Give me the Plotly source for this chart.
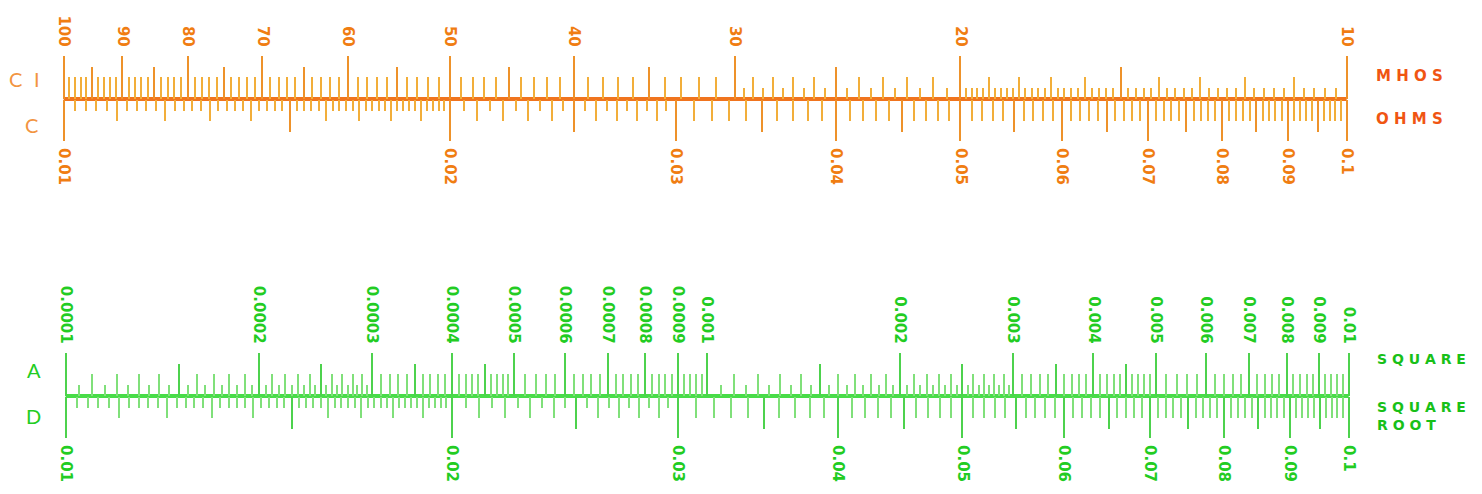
import numpy as np
import plotly.graph_objects as go

# ------------------------------------------------------------------ data
# Top rule: C scale (ohms, below the line) and CI scale (mhos, above the line)
C_LABEL_VALUES = [0.01, 0.02, 0.03, 0.04, 0.05, 0.06, 0.07, 0.08, 0.09, 0.1]
C_LABEL_TEXT = ["0.01", "0.02", "0.03", "0.04", "0.05", "0.06", "0.07", "0.08", "0.09", "0.1"]
C_HALF_MARKS = [0.015, 0.025, 0.035, 0.045, 0.055, 0.065, 0.075, 0.085, 0.095]
C_TENTH_STEPS = [(0.01, 0.1, 0.001)]                       # (from, to, step)
C_FINE_STEPS = [(0.01, 0.02, 0.0002), (0.02, 0.03, 0.0005)]

CI_LABEL_VALUES = [100, 90, 80, 70, 60, 50, 40, 30, 20, 10]
CI_LABEL_TEXT = ["100", "90", "80", "70", "60", "50", "40", "30", "20", "10"]
CI_FIVE_MARKS = [95, 85, 75, 65, 55, 45, 35, 25, 15]
CI_UNIT_STEPS = [(10, 100, 1)]
CI_FINE_STEPS = [(10, 20, 0.2), (20, 30, 0.5)]

# Bottom rule: A scale (square, above) and D scale (square root, below)
A_LABEL_VALUES = [0.0001, 0.0002, 0.0003, 0.0004, 0.0005, 0.0006, 0.0007, 0.0008, 0.0009,
                  0.001, 0.002, 0.003, 0.004, 0.005, 0.006, 0.007, 0.008, 0.009, 0.01]
A_LABEL_TEXT = ["0.0001", "0.0002", "0.0003", "0.0004", "0.0005", "0.0006", "0.0007", "0.0008",
                "0.0009", "0.001", "0.002", "0.003", "0.004", "0.005", "0.006", "0.007",
                "0.008", "0.009", "0.01"]
A_HALF_MARKS = [0.00015, 0.00025, 0.00035, 0.00045, 0.0015, 0.0025, 0.0035, 0.0045]
A_TENTH_STEPS = [(0.0001, 0.0005, 0.00001), (0.0005, 0.001, 0.00002),
                 (0.001, 0.005, 0.0001), (0.005, 0.01, 0.0002)]
A_FINE_STEPS = [(0.0001, 0.0003, 0.000005), (0.001, 0.003, 0.00005)]

D_LABEL_VALUES = [0.01, 0.02, 0.03, 0.04, 0.05, 0.06, 0.07, 0.08, 0.09, 0.1]
D_LABEL_TEXT = ["0.01", "0.02", "0.03", "0.04", "0.05", "0.06", "0.07", "0.08", "0.09", "0.1"]
D_HALF_MARKS = [0.015, 0.025, 0.035, 0.045, 0.055, 0.065, 0.075, 0.085, 0.095]
D_TENTH_STEPS = [(0.01, 0.1, 0.001)]
D_FINE_STEPS = [(0.01, 0.02, 0.0002), (0.02, 0.03, 0.0005)]

SCALE_RANGE = [0.01, 0.1]


# ------------------------------------------------------------------ helpers
def key(v):
    return float(f"{v:.10g}")


def graduations(steps, exclude):
    ex = {key(v) for v in exclude}
    out = []
    for lo, hi, st in steps:
        n = int(round((hi - lo) / st))
        for i in range(n + 1):
            v = key(lo + i * st)
            if v not in ex:
                ex.add(v)
                out.append(v)
    return out


def ci_pos(vals):      # reciprocal scale -> position on C
    return [1.0 / v for v in vals]


def a_pos(vals):       # square scale -> position on D
    return [float(np.sqrt(v)) for v in vals]


c_tenth = graduations(C_TENTH_STEPS, C_LABEL_VALUES + C_HALF_MARKS)
c_fine = graduations(C_FINE_STEPS, C_LABEL_VALUES + C_HALF_MARKS + c_tenth)
ci_unit = graduations(CI_UNIT_STEPS, CI_LABEL_VALUES + CI_FIVE_MARKS)
ci_fine = graduations(CI_FINE_STEPS, CI_LABEL_VALUES + CI_FIVE_MARKS + ci_unit)
a_tenth = graduations(A_TENTH_STEPS, A_LABEL_VALUES + A_HALF_MARKS)
a_fine = graduations(A_FINE_STEPS, A_LABEL_VALUES + A_HALF_MARKS + a_tenth)
d_tenth = graduations(D_TENTH_STEPS, D_LABEL_VALUES + D_HALF_MARKS)
d_fine = graduations(D_FINE_STEPS, D_LABEL_VALUES + D_HALF_MARKS + d_tenth)

# ------------------------------------------------------------------ geometry (screen px)
PAGE_M = 8
FIG_W, FIG_H = 1482 - 2 * PAGE_M, 494 - 2 * PAGE_M
PAD = 0.004  # decades of slack at each end of the log axes


def fx(px):
    return (px - PAGE_M) / FIG_W


def fy(py):
    return 1 - (py - PAGE_M) / FIG_H


def dom(x0, x1):
    span = x1 - x0
    return [fx(x0 - PAD * span), fx(x1 + PAD * span)]


LOG_RANGE = [np.log10(SCALE_RANGE[0]) - PAD, np.log10(SCALE_RANGE[1]) + PAD]

TOP = dict(x0=60, x1=1350, y=99)
BOT = dict(x0=62, x1=1352, y=396)

FONT = "DejaVu Sans"
OR_LABEL = "#F07D12"
OR_MAJOR = "#EE922A"
OR_MINOR = "#F2AE3A"
OR_LINE = "#F0741E"
GR_LABEL = "#22CC22"
GR_MAJOR = "#4DD24D"
GR_MINOR = "#80E07A"
GR_LINE = "#48DC48"

fig = go.Figure()


def base_axis(domain, side, position):
    return dict(type="log", range=LOG_RANGE, domain=domain, anchor="free", position=position,
                side=side, showgrid=False, zeroline=False, showline=False, ticks="outside",
                fixedrange=True, tickangle=90)


def add_panel(geo, xnames, yname, overlay_ref, lab_vals, lab_text, half_vals, tenth_vals,
              fine_vals, up_lab_vals, up_lab_text, up_half_vals, up_tenth_vals, up_fine_vals,
              col_label, col_major, col_minor, col_line):
    d = dom(geo["x0"], geo["x1"])
    L = fy(geo["y"])
    ya = dict(domain=[L - 0.05, L + 0.05], range=[-1, 1], visible=False, fixedrange=True)
    lab_font = dict(family=FONT, size=15, color=col_label, weight="bold")
    # below: labelled + half marks
    a1 = base_axis(d, "bottom", L)
    a1.update(tickmode="array", tickvals=lab_vals, ticktext=lab_text, ticklen=41,
              tickwidth=2, tickcolor=col_major, tickfont=lab_font, ticklabelstandoff=4,
              minor=dict(tickmode="array", tickvals=half_vals, ticks="outside", ticklen=32,
                         tickwidth=1.8, tickcolor=col_major))
    # below: tenths + fine
    a2 = base_axis(d, "bottom", L)
    a2.update(tickmode="array", tickvals=tenth_vals, showticklabels=False, ticklen=21,
              tickwidth=1.6, tickcolor=col_minor, overlaying=overlay_ref,
              minor=dict(tickmode="array", tickvals=fine_vals, ticks="outside", ticklen=11,
                         tickwidth=1.5, tickcolor=col_minor))
    # above: labelled + half marks
    a3 = base_axis(d, "top", L)
    a3.update(tickmode="array", tickvals=up_lab_vals, ticktext=up_lab_text, ticklen=43,
              tickwidth=2, tickcolor=col_major, tickfont=lab_font, ticklabelstandoff=4,
              overlaying=overlay_ref,
              minor=dict(tickmode="array", tickvals=up_half_vals, ticks="outside", ticklen=32,
                         tickwidth=1.8, tickcolor=col_major))
    # above: tenths + fine
    a4 = base_axis(d, "top", L)
    a4.update(tickmode="array", tickvals=up_tenth_vals, showticklabels=False, ticklen=22,
              tickwidth=1.6, tickcolor=col_minor, overlaying=overlay_ref,
              minor=dict(tickmode="array", tickvals=up_fine_vals, ticks="outside", ticklen=11,
                         tickwidth=1.5, tickcolor=col_minor))
    ysh = yname.replace("axis", "")
    fig.add_trace(go.Scatter(x=SCALE_RANGE, y=[0, 0], mode="lines",
                             line=dict(color=col_line, width=4),
                             xaxis=xnames[0].replace("axis", ""), yaxis=ysh,
                             hoverinfo="skip", showlegend=False))
    for nm in xnames[1:]:
        fig.add_trace(go.Scatter(x=SCALE_RANGE, y=[0, 0], mode="lines",
                                 line=dict(color="rgba(0,0,0,0)", width=0),
                                 xaxis=nm.replace("axis", ""), yaxis=ysh,
                                 hoverinfo="skip", showlegend=False))
    layout = dict(zip(xnames, [a1, a2, a3, a4]))
    layout[yname] = ya
    return layout


lay = {}
lay.update(add_panel(TOP, ["xaxis", "xaxis2", "xaxis3", "xaxis4"], "yaxis", "x",
                     C_LABEL_VALUES, C_LABEL_TEXT, C_HALF_MARKS, c_tenth, c_fine,
                     ci_pos(CI_LABEL_VALUES), CI_LABEL_TEXT, ci_pos(CI_FIVE_MARKS),
                     ci_pos(ci_unit), ci_pos(ci_fine),
                     OR_LABEL, OR_MAJOR, OR_MINOR, OR_LINE))
lay.update(add_panel(BOT, ["xaxis5", "xaxis6", "xaxis7", "xaxis8"], "yaxis2", "x5",
                     D_LABEL_VALUES, D_LABEL_TEXT, D_HALF_MARKS, d_tenth, d_fine,
                     a_pos(A_LABEL_VALUES), A_LABEL_TEXT, a_pos(A_HALF_MARKS),
                     a_pos(a_tenth), a_pos(a_fine),
                     GR_LABEL, GR_MAJOR, GR_MINOR, GR_LINE))
fig.update_layout(**lay)


def note(text, x, y, color, size, xanchor="center", bold=False, family=FONT):
    fig.add_annotation(text=text, x=fx(x), y=fy(y), align="left",
                       xref="paper", yref="paper", xanchor=xanchor, yanchor="middle",
                       showarrow=False,
                       font=dict(family=family, size=size, color=color,
                                 weight="bold" if bold else "normal"))


note("C", 12, 79, "#F29440", 20, family="Lato")
note("I", 33, 79, "#F29440", 20, family="Lato")
note("C", 28, 125, "#F29440", 20, family="Lato")
note("M H O S", 1377, 76, "#F05512", 15, xanchor="left", bold=True)
note("O H M S", 1377, 119, "#F05512", 15, xanchor="left", bold=True)
note("A", 30, 370, GR_LABEL, 20, family="Lato")
note("D", 30, 416, GR_LABEL, 20, family="Lato")
note("S Q U A R E", 1378, 359, "#18C018", 14, xanchor="left", bold=True)
note("S Q U A R E<br>R O O T", 1378, 416, "#18C018", 14, xanchor="left", bold=True)

fig.update_layout(width=FIG_W, height=FIG_H, autosize=False,
                  margin=dict(l=0, r=0, t=0, b=0, pad=0),
                  paper_bgcolor="white", plot_bgcolor="rgba(0,0,0,0)",
                  showlegend=False)

fig.write_html("out.html")
